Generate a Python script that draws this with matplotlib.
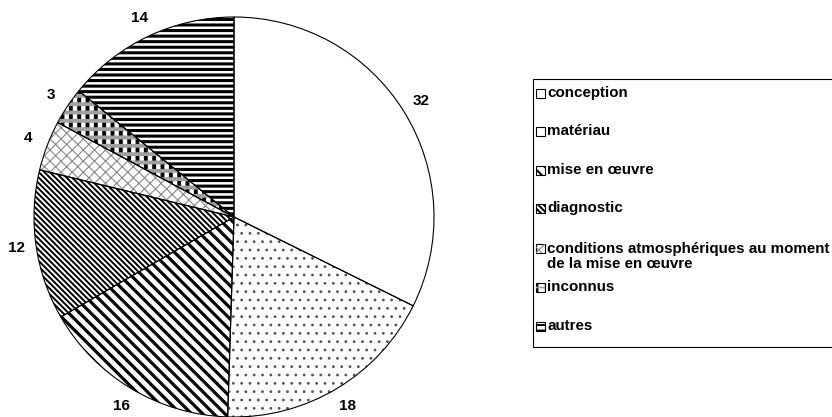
import matplotlib
matplotlib.use("Agg")
import matplotlib.pyplot as plt
from matplotlib.patches import Wedge, Rectangle

# Causes of defects (count per category)
categories = [
    "conception",
    "matériau",
    "mise en œuvre",
    "diagnostic",
    "conditions atmosphériques au moment\nde la mise en œuvre",
    "inconnus",
    "autres",
]
values = [32, 18, 16, 12, 4, 3, 14]
value_labels = ["32", "18", "16", "12", "4", "3", "14"]

# Black & white fill patterns per category
hatches = ["", "..", "\\\\\\", "\\\\\\\\\\\\", "xxx", "||", "---"]
hatch_colors = ["black", "#555555", "black", "black", "#888888", "black", "black"]
hatch_widths = [1.0, 0.8, 2.3, 1.4, 0.8, 2.8, 2.2]
# second pattern layer drawn over the "inconnus" wedge (grey bands)
overlay_index = 5
overlay_hatch = "--"
overlay_color = "#a0a0a0"
overlay_width = 2.8

W, H = 832, 417
plt.rcParams["font.family"] = ["Liberation Sans", "DejaVu Sans"]
plt.rcParams["font.weight"] = "bold"
plt.rcParams["font.size"] = 11

fig = plt.figure(figsize=(W / 100, H / 100), dpi=100)
fig.patch.set_facecolor("white")

ax = fig.add_axes([34 / W, 0 / H, 400 / W, 400 / H])


def set_hw(patch, w):
    if hasattr(patch, "set_hatch_linewidth"):
        patch.set_hatch_linewidth(w)


# pattern layer
wedges, _ = ax.pie(values, startangle=90, counterclock=False,
                   colors=["white"] * len(values),
                   wedgeprops=dict(linewidth=0))
for w, h, c, lw in zip(wedges, hatches, hatch_colors, hatch_widths):
    w.set_hatch(h)
    w.set_edgecolor(c)
    set_hw(w, lw)

# grey banding on top of the vertical bars
base = wedges[overlay_index]
ov = Wedge(base.center, base.r, base.theta1, base.theta2,
           facecolor="none", edgecolor=overlay_color, linewidth=0,
           hatch=overlay_hatch)
set_hw(ov, overlay_width)
ax.add_patch(ov)

# outlines and value labels
outline, texts = ax.pie(values, startangle=90, counterclock=False,
                        labels=value_labels, labeldistance=1.1,
                        wedgeprops=dict(fill=False, edgecolor="black",
                                        linewidth=0.8),
                        textprops=dict(fontsize=11, fontweight="bold"))
for t in texts:
    t.set_ha("center")
    t.set_va("center")

ax.set_xlim(-1, 1)
ax.set_ylim(-1, 1)
ax.set_aspect("equal")
ax.axis("off")

# legend box
frame_left, frame_top, frame_bottom = 533, 79, 347
fig.patches.append(Rectangle((frame_left / W, 1 - frame_bottom / H),
                             (W + 10 - frame_left) / W,
                             (frame_bottom - frame_top) / H,
                             transform=fig.transFigure, facecolor="white",
                             edgecolor="black", linewidth=0.8,
                             clip_on=False, zorder=1))

icon_y = [93, 131, 170, 208, 248, 287, 326]
text_y = [93, 131, 170, 208, 256.5, 287, 326]
icon_x, icon_s, text_x = 536, 9, 547
# legend swatches are too small to show the dot pattern
icon_hatches = ["", "", "\\\\\\", "\\\\\\\\\\\\", "xxx", "||", "---"]

for i, label in enumerate(categories):
    y0 = 1 - (icon_y[i] + icon_s / 2) / H
    r = Rectangle((icon_x / W, y0), icon_s / W, icon_s / H,
                  transform=fig.transFigure, facecolor="white",
                  edgecolor="black", linewidth=0.8, zorder=2)
    fig.patches.append(r)
    if icon_hatches[i]:
        rh = Rectangle((icon_x / W, y0), icon_s / W, icon_s / H,
                       transform=fig.transFigure, facecolor="none",
                       edgecolor=hatch_colors[i], linewidth=0,
                       hatch=icon_hatches[i], zorder=3)
        set_hw(rh, min(hatch_widths[i], 1.4))
        fig.patches.append(rh)
    if i == overlay_index:
        ro = Rectangle((icon_x / W, y0), icon_s / W, icon_s / H,
                       transform=fig.transFigure, facecolor="none",
                       edgecolor=overlay_color, linewidth=0,
                       hatch=overlay_hatch, zorder=4)
        set_hw(ro, 1.2)
        fig.patches.append(ro)
    fig.text(text_x / W, 1 - text_y[i] / H, label, ha="left", va="center",
             fontsize=10.9, fontweight="bold", linespacing=1.15, zorder=5)

fig.savefig("out.png", dpi=100, facecolor="white")
